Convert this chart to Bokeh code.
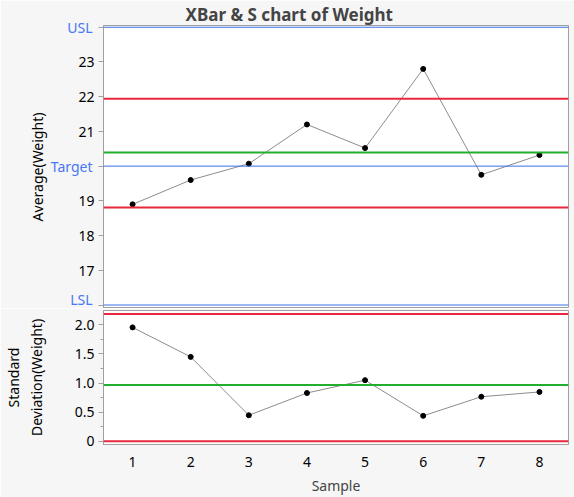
from bokeh.plotting import figure
from bokeh.layouts import column
from bokeh.models import (Range1d, Span, FixedTicker, NumeralTickFormatter,
                          ColumnDataSource, LinearAxis)
from bokeh.embed import file_html
from bokeh.resources import INLINE

# ---- data ----
samples = [1, 2, 3, 4, 5, 6, 7, 8]
xbar = [18.90, 19.60, 20.07, 21.20, 20.52, 22.80, 19.75, 20.32]
sdev = [1.956, 1.45, 0.448, 0.83, 1.05, 0.438, 0.766, 0.848]

xbar_ucl = 21.94
xbar_cl = 20.39
xbar_lcl = 18.81
spec_usl = 24
spec_target = 20
spec_lsl = 16

s_ucl = 2.185
s_cl = 0.967
s_lcl = 0.0

xbar_ticks = [16, 17, 18, 19, 20, 21, 22, 23, 24]
s_ticks = [0, 0.5, 1.0, 1.5, 2.0]
s_minor = [0.25, 0.75, 1.25, 1.75, 2.25]
spec_labels = ["USL", "Target", "LSL"]
spec_values = [spec_usl, spec_target, spec_lsl]

# ---- style ----
FONT = "Noto Sans"
BG = "#f6f6f6"
GREY = "#a0a0a0"
RED = "#e8283f"
GREEN = "#22b02c"
BLUE = "#3a6fe8"
LBLUE = "#4677f5"
W = 574

def style_axis(ax):
    ax.axis_line_color = GREY
    ax.major_tick_line_color = GREY
    ax.minor_tick_line_color = GREY
    ax.major_tick_out = 5
    ax.major_tick_in = 0
    ax.minor_tick_out = 3
    ax.minor_tick_in = 0
    ax.major_label_standoff = 4
    ax.major_label_text_font = FONT
    ax.major_label_text_font_size = "14px"
    ax.major_label_text_color = "black"
    ax.axis_label_text_font = FONT
    ax.axis_label_text_font_size = "14px"
    ax.axis_label_text_font_style = "normal"
    ax.axis_label_text_color = "black"

def style_common(p):
    p.grid.visible = False
    p.border_fill_color = BG
    p.background_fill_color = "white"
    p.outline_line_color = GREY
    p.outline_line_width = 1
    for ax in p.yaxis:
        style_axis(ax)

# ---- top: XBar chart ----
src = ColumnDataSource(dict(x=samples, xbar=xbar, s=sdev))

p1 = figure(width=W, height=308, output_backend="svg", toolbar_location=None,
            x_range=Range1d(0.5, 8.5), y_range=Range1d(15.9, 24.05),
            min_border_left=101, min_border_right=6, min_border_top=0, min_border_bottom=0)
p1.title.text = "XBar & S chart of Weight"
p1.title.align = "left"
p1.title.offset = 82
p1.title.text_font = FONT
p1.title.text_font_size = "17px"
p1.title.text_font_style = "bold"
p1.title.standoff = 0
style_common(p1)
p1.xaxis.visible = False
p1.yaxis.ticker = FixedTicker(ticks=xbar_ticks)
p1.yaxis.major_label_overrides = {v: " " for v in spec_values}

# outer axis carrying the blue spec-limit labels and the axis title
spec_axis = LinearAxis(ticker=FixedTicker(ticks=spec_values),
                       major_label_overrides=dict(zip(spec_values, spec_labels)))
style_axis(spec_axis)
spec_axis.axis_line_color = None
spec_axis.major_tick_line_color = None
spec_axis.minor_tick_line_color = None
spec_axis.major_tick_out = 0
spec_axis.major_label_text_color = LBLUE
spec_axis.major_label_standoff = -17
spec_axis.axis_label = "Average(Weight)"
spec_axis.axis_label_standoff = 1
p1.add_layout(spec_axis, "left")

for v in spec_values:
    p1.add_layout(Span(location=v, dimension="width", line_color=BLUE, line_width=1))
p1.add_layout(Span(location=xbar_ucl, dimension="width", line_color=RED, line_width=2))
p1.add_layout(Span(location=xbar_lcl, dimension="width", line_color=RED, line_width=2))
p1.add_layout(Span(location=xbar_cl, dimension="width", line_color=GREEN, line_width=2))

p1.line("x", "xbar", source=src, line_color="#8c8c8c", line_width=1)
p1.scatter("x", "xbar", source=src, size=5, color="black")

# ---- bottom: S chart ----
p2 = figure(width=W, height=189, output_backend="svg", toolbar_location=None,
            x_range=p1.x_range, y_range=Range1d(-0.054, 2.246),
            min_border_left=101, min_border_right=6, min_border_top=2, min_border_bottom=0)
style_common(p2)
p2.yaxis.ticker = FixedTicker(ticks=s_ticks, minor_ticks=s_minor)
p2.yaxis.formatter = NumeralTickFormatter(format="0.0")
p2.yaxis.major_label_overrides = {0: "0"}
p2.yaxis.axis_label = "Standard\nDeviation(Weight)"
p2.yaxis.axis_label_standoff = 26

xa = p2.xaxis[0]
xa.ticker = FixedTicker(ticks=samples)
xa.axis_line_color = GREY
xa.major_tick_line_color = None
xa.minor_tick_line_color = None
xa.major_label_text_font = FONT
xa.major_label_text_font_size = "14px"
xa.major_label_text_color = "black"
xa.major_label_standoff = 6
xa.axis_label = "Sample"
xa.axis_label_text_font = FONT
xa.axis_label_text_font_size = "14px"
xa.axis_label_text_font_style = "normal"
xa.axis_label_standoff = 6

p2.add_layout(Span(location=s_ucl, dimension="width", line_color=RED, line_width=2))
p2.add_layout(Span(location=s_lcl, dimension="width", line_color=RED, line_width=2))
p2.add_layout(Span(location=s_cl, dimension="width", line_color=GREEN, line_width=2))

p2.line("x", "s", source=src, line_color="#8c8c8c", line_width=1)
p2.scatter("x", "s", source=src, size=5, color="black")

p = column(p1, p2, spacing=0)
open("out.html", "w").write(file_html(p, INLINE))
